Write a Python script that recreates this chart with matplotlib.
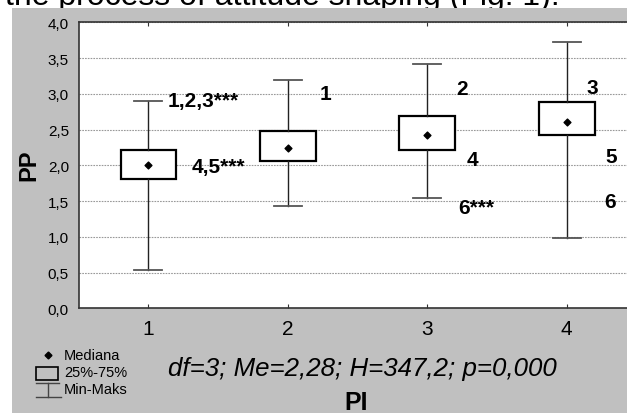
import matplotlib
matplotlib.use("Agg")
import matplotlib.pyplot as plt
from matplotlib.patches import Rectangle
from matplotlib.lines import Line2D
from matplotlib.ticker import FuncFormatter

plt.rcParams['font.family'] = ['Liberation Sans', 'DejaVu Sans']

# PP by PI group: min, quartiles, median, max
groups = [1, 2, 3, 4]
mins = [0.54, 1.43, 1.54, 0.99]
q1 = [1.81, 2.06, 2.21, 2.42]
medians = [2.00, 2.24, 2.43, 2.60]
q3 = [2.22, 2.48, 2.69, 2.89]
maxs = [2.90, 3.20, 3.41, 3.72]

# pairwise comparison marks next to the boxes
sig_labels = ["1,2,3***", "4,5***", "1", "2", "4", "6***", "3", "5", "6"]
sig_x = [1.14, 1.31, 2.23, 3.21, 3.285, 3.22, 4.14, 4.28, 4.27]
sig_y = [2.90, 1.99, 3.00, 3.07, 2.08, 1.41, 3.09, 2.12, 1.50]

stats_text = "df=3; Me=2,28; H=347,2; p=0,000"

W, H = 627, 414
fig = plt.figure(figsize=(W / 100, H / 100), dpi=100)
fig.patch.set_facecolor('white')

# grey panel behind the chart
fig.add_artist(Rectangle((12 / W, 0), 1, 1 - 8.7 / H, transform=fig.transFigure,
                         facecolor='#c0c0c0', edgecolor='none', zorder=-1))
fig.text(5 / W, 1 - 5.5 / H, "the process of attitude shaping (Fig. 1).",
         ha='left', va='baseline', fontsize=23, zorder=-2)

ax = fig.add_axes([78.7 / W, 1 - 309.3 / H, 557.8 / W, 286 / H])
ax.set_facecolor('white')

stats = []
for lo, a, m, b, hi in zip(mins, q1, medians, q3, maxs):
    stats.append(dict(whislo=lo, q1=a, med=m, q3=b, whishi=hi, fliers=[]))

ax.bxp(stats, positions=groups, widths=0.4, capwidths=0.2, showfliers=False,
       patch_artist=True,
       boxprops=dict(facecolor='white', edgecolor='black', linewidth=1.6),
       whiskerprops=dict(color='#222222', linewidth=1.0),
       capprops=dict(color='#555555', linewidth=1.3),
       medianprops=dict(linewidth=0))
ax.scatter(groups, medians, marker='D', s=12, color='black', zorder=5)

for lab, x, y in zip(sig_labels, sig_x, sig_y):
    ax.text(x, y, lab, ha='left', va='center', fontsize=15, fontweight='bold')

ax.set_xlim(0.5, 4.5)
ax.set_ylim(0, 4)
ax.set_xticks(groups)
ax.set_yticks([i * 0.5 for i in range(9)])
ax.yaxis.set_major_formatter(FuncFormatter(lambda v, p: f"{v:.1f}".replace('.', ',')))
ax.tick_params(axis='x', direction='in', length=3, top=True, labelsize=15, pad=8,
               color='#333333')
ax.tick_params(axis='y', length=0, labelsize=11, pad=7)
ax.yaxis.grid(True, linestyle=(0, (1.5, 1)), color='#999999', linewidth=0.8)
ax.set_axisbelow(True)
for s in ax.spines.values():
    s.set_color('#333333')
    s.set_linewidth(1.2)

fig.text(29 / W, 1 - 165 / H, "PP", rotation=90, ha='center', va='center',
         fontsize=17, fontweight='bold')
fig.text(356.5 / W, 1 - 410.5 / H, "PI", ha='center', va='baseline',
         fontsize=18, fontweight='bold')
fig.text(168 / W, 1 - 376.5 / H, stats_text, ha='left', va='baseline',
         fontsize=18.6, style='italic')

# legend key in the lower left corner
def px(x, y):
    return x / W, 1 - y / H

fig.add_artist(Line2D(*zip(px(48, 356)), marker='D', markersize=3.5, color='black',
                      transform=fig.transFigure))
x0, y0 = px(36, 380.7)
fig.add_artist(Rectangle((x0, y0), 22 / W, 13 / H, transform=fig.transFigure,
                         facecolor='none', edgecolor='black', linewidth=1.2))
for (xa, ya), (xb, yb) in [((36, 383.5), (59, 383.5)), ((47.5, 383.5), (47.5, 397.5)),
                           ((36, 397.5), (61, 397.5))]:
    p1, p2 = px(xa, ya), px(xb, yb)
    fig.add_artist(Line2D([p1[0], p2[0]], [p1[1], p2[1]], color='#444444', lw=1.0,
                          transform=fig.transFigure))
for txt, y in [("Mediana", 356), ("25%-75%", 373.5), ("Min-Maks", 390.5)]:
    fig.text(64 / W, 1 - y / H, txt, ha='left', va='center', fontsize=10.5)

fig.savefig("out.png", dpi=100)
